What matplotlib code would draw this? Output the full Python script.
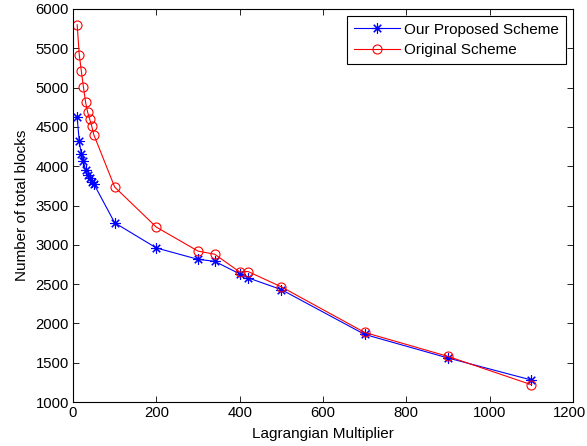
import matplotlib
matplotlib.use("Agg")
import matplotlib.pyplot as plt
from matplotlib.transforms import ScaledTranslation

plt.rcParams['font.family'] = ['Liberation Sans Narrow', 'Liberation Sans', 'DejaVu Sans']

lam = [10, 15, 20, 25, 30, 35, 40, 45, 50, 100, 200, 300, 340, 400, 420, 500, 700, 900, 1100]
proposed = [4620, 4320, 4150, 4060, 3950, 3890, 3845, 3805, 3775, 3280, 2960, 2815, 2790,
            2630, 2580, 2430, 1860, 1560, 1280]
original = [5800, 5420, 5210, 5010, 4820, 4690, 4600, 4510, 4400, 3735, 3225, 2920, 2880,
            2655, 2660, 2465, 1885, 1580, 1220]

FS = 11
TICK_FS = 10.7

fig = plt.figure(figsize=(5.87, 4.46), dpi=100)
ax = fig.add_axes([73 / 587, 1 - 402 / 446, 500 / 587, 393 / 446])

# asterisk marker: 8 arms through the centre
ax.plot(lam, proposed, color=(0, 0, 1), marker=(8, 2, 0), markersize=7.5, linewidth=0.8,
        markeredgewidth=0.8, label='Our Proposed Scheme')
ax.plot(lam, original, color=(1, 0, 0), marker='o', markersize=6.5, markerfacecolor='none',
        linewidth=0.8, markeredgewidth=0.8, label='Original Scheme')

ax.set_xlim(0, 1200)
ax.set_ylim(1000, 6000)
ax.set_xticks(range(0, 1201, 200))
ax.set_yticks(range(1000, 6001, 500))
ax.tick_params(direction='in', top=True, right=True, length=4, width=0.6,
               labelsize=TICK_FS, pad=3)
for s in ax.spines.values():
    s.set_linewidth(0.8)

# keep the rightmost x tick label inside the figure edge
last = ax.xaxis.get_major_ticks()[-1].label1
last.set_transform(last.get_transform() + ScaledTranslation(-4 / 100, 0, fig.dpi_scale_trans))

ax.set_xlabel('Lagrangian Multiplier', fontsize=FS, labelpad=5)
ax.set_ylabel('Number of total blocks', fontsize=FS, labelpad=5)

leg = ax.legend(loc='upper right', fontsize=FS, fancybox=False, framealpha=1,
                edgecolor='black', handlelength=3.0, borderaxespad=0.45,
                labelspacing=0.4, handletextpad=0.3, borderpad=0.45)
leg.get_frame().set_linewidth(0.8)

fig.savefig('out.png', dpi=100)
